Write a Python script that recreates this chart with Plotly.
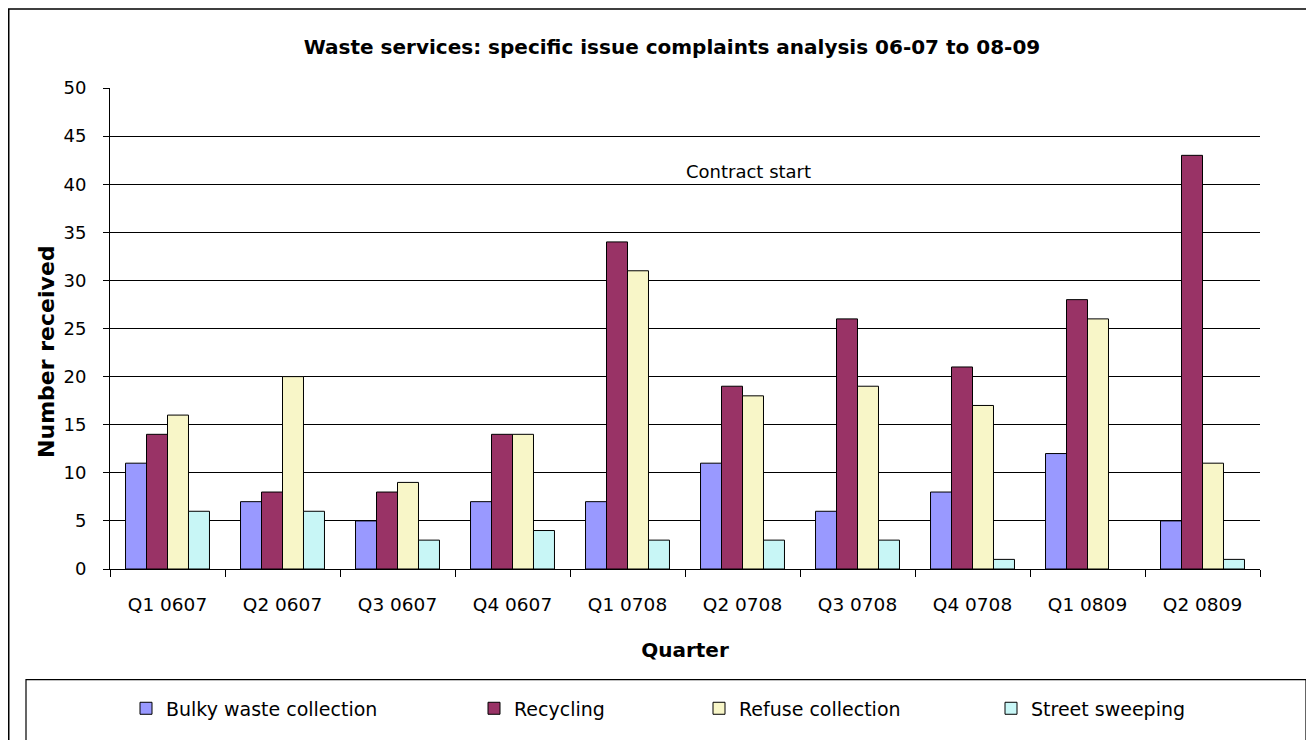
import plotly.graph_objects as go

quarters = ["Q1 0607", "Q2 0607", "Q3 0607", "Q4 0607", "Q1 0708",
            "Q2 0708", "Q3 0708", "Q4 0708", "Q1 0809", "Q2 0809"]
bulky = [11, 7, 5, 7, 7, 11, 6, 8, 12, 5]
recycling = [14, 8, 8, 14, 34, 19, 26, 21, 28, 43]
refuse = [16, 20, 9, 14, 31, 18, 19, 17, 26, 11]
street = [6, 6, 3, 4, 3, 3, 3, 1, 0, 1]
series_names = ["Bulky waste collection", "Recycling", "Refuse collection", "Street sweeping"]
series_values = [bulky, recycling, refuse, street]
colors = ["#9999FF", "#993366", "#F8F6C8", "#C8F6F6"]

OFF = 8  # page body margin
W, H = 1314 - OFF, 740 - OFF
# plot area in reference page px
RL, RR, RT, RB = 110, 1260, 88, 571
L, R, T, B = RL - OFF, RR - OFF, RT - OFF, RB - OFF


def px(x):  # reference page x -> paper x
    return (x - OFF - L) / (R - L)


def py(y):  # reference page y -> paper y
    return (B - (y - OFF)) / (B - T)


FONT = "DejaVu Sans"
fig = go.Figure()
legend_keys = ["legend", "legend2", "legend3", "legend4"]
for name, vals, col, lk in zip(series_names, series_values, colors, legend_keys):
    fig.add_trace(go.Bar(
        x=quarters, y=vals, name=name, legend=lk,
        marker=dict(color=col,
                    line=dict(color="black", width=[0 if v == 0 else 1 for v in vals])),
    ))

text_start = [166, 514, 739, 1031]
layout_legends = {}
for lk, ts in zip(legend_keys, text_start):
    layout_legends[lk] = dict(
        x=px(ts - 40), y=py(711), xanchor="left", yanchor="middle",
        orientation="h", bgcolor="rgba(0,0,0,0)",
        font=dict(family=FONT, size=19, color="black"),
        itemwidth=30,
    )

fig.update_layout(
    width=W, height=H,
    margin=dict(l=L, r=W - R, t=T, b=H - B, pad=0),
    paper_bgcolor="white", plot_bgcolor="white",
    barmode="group", bargap=0.27, bargroupgap=0,
    font=dict(family=FONT, color="black"),
    title=dict(
        text="<b>Waste services: specific issue complaints analysis 06-07 to 08-09</b>",
        x=(672 - OFF) / W, xanchor="center", y=1 - (47 - OFF) / H, yanchor="middle",
        font=dict(family=FONT, size=20, color="black"),
    ),
    showlegend=True,
    **layout_legends,
)

fig.update_xaxes(
    showline=True, linecolor="black", linewidth=1,
    ticks="outside", ticklen=7, tickcolor="black", tickson="boundaries",
    ticklabelstandoff=19,
    tickfont=dict(family=FONT, size=18.5, color="black"),
    title=dict(text="<b>Quarter</b>", font=dict(family=FONT, size=20, color="black"), standoff=28),
    showgrid=False,
)
fig.update_yaxes(
    range=[0, 50], dtick=5, tick0=0,
    showline=True, linecolor="black", linewidth=1,
    ticks="outside", ticklen=6, tickcolor="black",
    ticklabelstandoff=13,
    tickfont=dict(family=FONT, size=18, color="black"),
    showgrid=True, gridcolor="black", gridwidth=1,
    zeroline=False,
)

# y-axis title (placed off-centre as in the reference)
fig.add_annotation(
    text="<b>Number received</b>", xref="paper", yref="paper",
    x=px(47), y=py(353), xanchor="center", yanchor="middle", textangle=-90,
    showarrow=False, font=dict(family=FONT, size=22, color="black"),
)

fig.add_annotation(
    text="Contract start", xref="paper", yref="paper",
    x=px(748), y=py(172), xanchor="center", yanchor="middle",
    showarrow=False, font=dict(family=FONT, size=18, color="black"),
)

# outer chart frame
fig.add_shape(type="rect", xref="paper", yref="paper",
              x0=px(OFF + 0.75), x1=px(1311), y0=py(760), y1=py(OFF + 0.75),
              line=dict(color="black", width=1.5), fillcolor="rgba(0,0,0,0)", layer="below")
# legend box
fig.add_shape(type="rect", xref="paper", yref="paper",
              x0=px(26), x1=px(1306), y0=py(760), y1=py(682),
              line=dict(color="black", width=1.2), fillcolor="rgba(0,0,0,0)", layer="below")

fig.write_html("out.html")
